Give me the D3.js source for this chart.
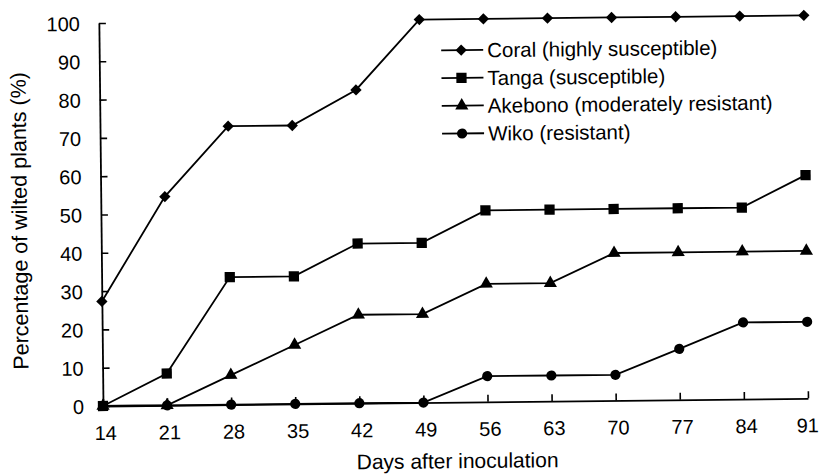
<!DOCTYPE html>
<html>
<head>
<meta charset="utf-8">
<script src="https://cdn.jsdelivr.net/npm/d3@7"></script>
<style>
  html, body { margin: 0; padding: 0; background: #fff; }
  svg { display: block; }
  text { font-family: "Liberation Sans", Arial, sans-serif; fill: #000; }
</style>
</head>
<body>
<svg id="chart" width="819" height="475"></svg>
<script>
// ---- data ----
const days = [14, 21, 28, 35, 42, 49, 56, 63, 70, 77, 84, 91];
const coral   = [27.3, 54.5, 72.7, 72.7, 81.8, 100, 100, 100, 100, 100, 100, 100];
const tanga   = [0, 8.3, 33.3, 33.3, 41.7, 41.7, 50, 50, 50, 50, 50, 58.3];
const akebono = [0, 0, 7.7, 15.4, 23.1, 23.1, 30.8, 30.8, 38.5, 38.5, 38.5, 38.5];
const wiko    = [0, 0, 0, 0, 0, 0, 6.7, 6.7, 6.7, 13.3, 20, 20];
const seriesNames = ["Coral (highly susceptible)", "Tanga (susceptible)", "Akebono (moderately resistant)", "Wiko (resistant)"];
const seriesSymbols = ["diamond", "square", "triangle", "circle"];
const yTicks = [0, 10, 20, 30, 40, 50, 60, 70, 80, 90, 100];
const xTitle = "Days after inoculation";
const yTitle = "Percentage of wilted plants (%)";

const series = [coral, tanga, akebono, wiko].map((vals, i) => ({
  name: seriesNames[i], symbol: seriesSymbols[i],
  points: days.map((d, j) => ({ d, v: vals[j] }))
}));

// ---- layout ----
const x0 = 103, y0 = 406;
const x = d3.scaleLinear().domain([14, 91]).range([x0, 808]);
const y = d3.scaleLinear().domain([0, 100]).range([y0, 23]);

const svg = d3.select("#chart");
// scanned original is slightly rotated
const root = svg.append("g").attr("transform", `rotate(-0.62, ${x0}, ${y0})`);

const symType = {
  diamond: d3.symbolSquare, square: d3.symbolSquare,
  triangle: d3.symbolTriangle, circle: d3.symbolCircle
};
const symSize = { diamond: 64, square: 105, triangle: 75, circle: 82 };
const symRot = { diamond: 45, square: 0, triangle: 0, circle: 0 };
function symbolPath(s) { return d3.symbol().type(symType[s]).size(symSize[s])(); }

// axes
const yAxis = d3.axisLeft(y).tickValues(yTicks).tickSizeInner(-7).tickSizeOuter(0).tickPadding(19);
const gy = root.append("g").attr("transform", `translate(${x0},0)`).call(yAxis);
gy.select(".domain").attr("stroke-width", 1.8).attr("stroke", "#000");
gy.selectAll(".tick line").attr("stroke-width", 1.6).attr("stroke", "#000");
gy.selectAll(".tick text").style("font-size", "20px").attr("dy", "0.36em");

const xAxis = d3.axisBottom(x).tickValues(days).tickSizeInner(-7).tickSizeOuter(0).tickPadding(16);
const gx = root.append("g").attr("transform", `translate(0,${y0})`).call(xAxis);
gx.select(".domain").attr("stroke-width", 1.8).attr("stroke", "#000");
gx.selectAll(".tick line").attr("stroke-width", 1.6).attr("stroke", "#000");
gx.selectAll(".tick text").style("font-size", "20px").attr("dy", "0.9em")
  .attr("dx", (d, i) => i === days.length - 1 ? -1 : 2);

// lines
const line = d3.line().x(p => x(p.d)).y(p => y(p.v));
series.forEach(s => {
  root.append("path").datum(s.points)
    .attr("d", line).attr("fill", "none").attr("stroke", "#000").attr("stroke-width", 1.8);
  root.selectAll(null).data(s.points).enter().append("path")
    .attr("d", symbolPath(s.symbol))
    .attr("transform", p => `translate(${x(p.d)},${y(p.v)}) rotate(${symRot[s.symbol]})`)
    .attr("fill", "#000");
});

// legend
const lg = root.append("g").attr("transform", "translate(445,54)");
series.forEach((s, i) => {
  const g = lg.append("g").attr("transform", `translate(0,${i * 27.8})`);
  g.append("line").attr("x1", 0).attr("x2", 42).attr("y1", 0).attr("y2", 0)
    .attr("stroke", "#000").attr("stroke-width", 1.8);
  g.append("path").attr("d", symbolPath(s.symbol))
    .attr("transform", `translate(20,0) rotate(${symRot[s.symbol]})`).attr("fill", "#000");
  g.append("text").attr("x", 46).attr("y", 0).attr("dy", "0.36em")
    .style("font-size", "20.5px").text(s.name);
});

// axis titles
root.append("text").attr("x", 457).attr("y", 472)
  .attr("text-anchor", "middle").style("font-size", "21px").text(xTitle);
root.append("text").attr("transform", "translate(29,220) rotate(-90)")
  .attr("text-anchor", "middle").style("font-size", "21.5px").text(yTitle);
</script>
</body>
</html>
